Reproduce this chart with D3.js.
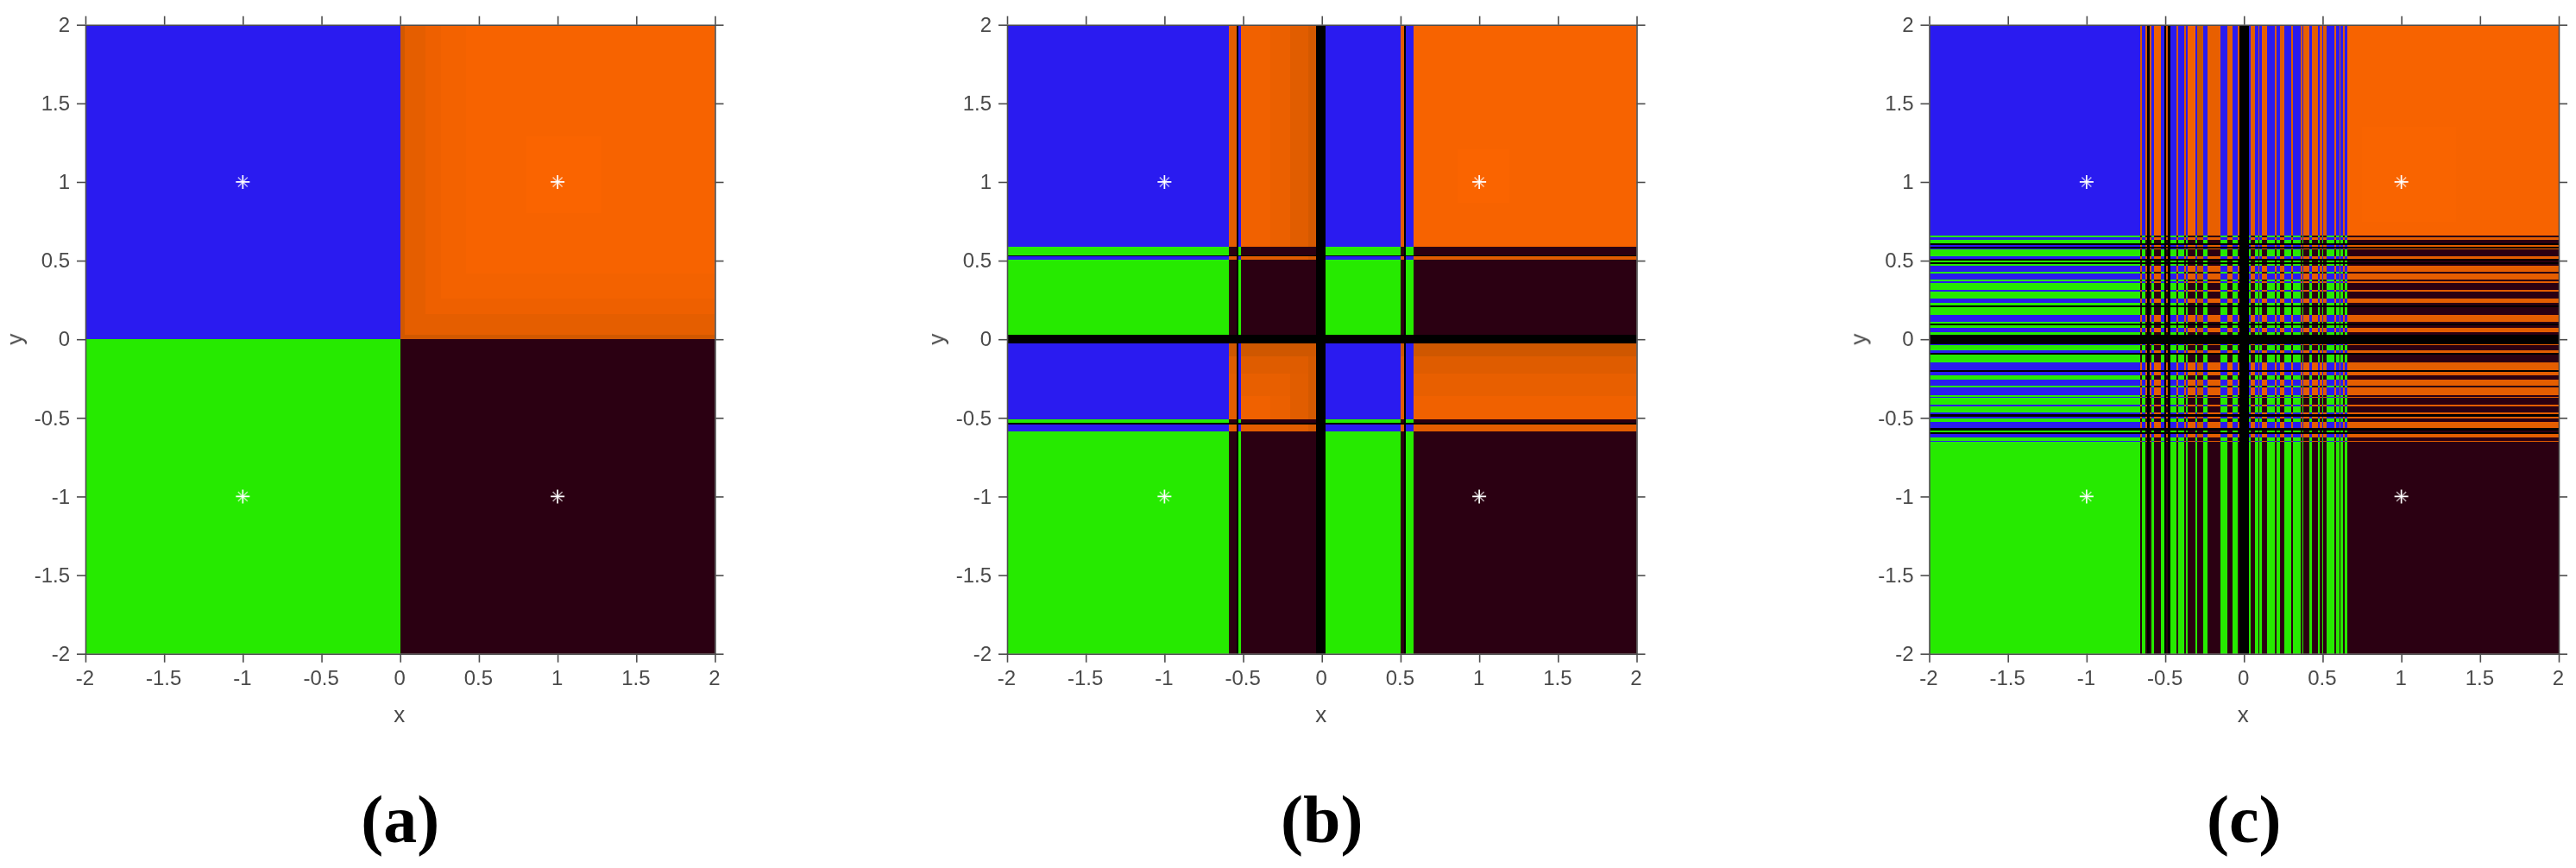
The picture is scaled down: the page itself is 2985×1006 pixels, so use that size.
<!DOCTYPE html>
<html><head><meta charset="utf-8">
<script src="https://cdnjs.cloudflare.com/ajax/libs/d3/7.8.5/d3.min.js"></script>
<style>html,body{margin:0;padding:0;background:#fff}svg{display:block}</style>
</head><body><svg id="c" width="2985" height="1006"></svg>
<script>
// ---------- data: tick values, sub-figure labels, equilibrium points ----------
const tickValues = [-2,-1.5,-1,-0.5,0,0.5,1,1.5,2];
const panelLabels = ["(a)","(b)","(c)"];
const equilibria = [[-1,1],[1,1],[-1,-1],[1,-1]];

// basin bands: edges and a kind for each interval. x: L/R/K(black), y: U/D/K
const xEdgesA = [-2,0,0.03,0.16,0.26,0.42,0.80,1.28,2];
const xKindsA = "LRRRRRRR";
const xShadeA = [1,0.45,0.72,0.84,0.90,0.96,1,0.96];
const yEdgesA = [2,1.29,0.80,0.42,0.26,0.16,0.03,0,-2];
const yKindsA = "UUUUUUUD";
const yShadeA = [0.96,1,0.96,0.90,0.84,0.72,0.45,1];

const xEdgesB = [-2,-0.592,-0.541,-0.53,-0.513,-0.327,-0.199,-0.089,-0.035,0.026,0.502,0.524,0.532,0.582,0.86,1.19,2];
const xKindsB = "LRKLRRRRKLRKLRRR";
const xShadeB = [1,0.7,1,1,0.88,0.80,0.66,0.49,1,1,0.7,1,1,0.96,1,0.96];
const yEdgesB = [2,1.21,0.87,0.589,0.534,0.53,0.508,0.03,-0.028,-0.107,-0.216,-0.36,-0.507,-0.529,-0.54,-0.587,-2];
const yKindsB = "UUUDKUDKUUUUDKUD";
const yShadeB = [0.96,1,0.96,1,1,0.66,1,1,0.42,0.63,0.76,0.86,1,1,0.7,1];

const xEdgesC = [-2,-0.660,-0.650,-0.629,-0.613,-0.600,-0.587,-0.574,-0.527,-0.508,-0.496,-0.482,-0.469,-0.428,-0.417,-0.377,-0.368,-0.359,-0.310,-0.299,-0.259,-0.229,-0.149,-0.108,-0.072,-0.039,-0.027,0.030,0.041,0.070,0.092,0.100,0.112,0.149,0.198,0.209,0.231,0.259,0.299,0.311,0.363,0.370,0.379,0.418,0.430,0.470,0.481,0.500,0.505,0.527,0.573,0.587,0.605,0.611,0.631,0.642,0.655,0.75,1.35,2];
const xKindsC = "LRLRKRLRLK"+"RKLRLRLRLR"+"LRLRLRKLRL"+"RLRLRLRLRL"+"RLRLRLRLRL"+"RLRLRLRRR";
const xShadeC = [1,0.55,1,0.55,1,0.55,1,0.85,1,1,0.55,1,1,0.55,1,0.55,1,0.88,1,0.3,1,0.75,1,0.7,1,0.55,1,1,0.68,1,0.55,1,0.74,1,0.55,1,0.68,1,0.6,1,0.5,1,0.75,1,0.7,1,0.6,1,0.58,1,0.66,1,0.55,1,0.55,1,0.96,0.98,0.96];
const yEdgesC = [2,1.35,0.75,0.659,0.649,0.631,0.609,0.598,0.587,0.576,0.569,0.529,0.510,0.503,0.492,0.481,0.470,0.430,0.419,0.379,0.368,0.357,0.313,0.302,0.260,0.229,0.215,0.204,0.152,0.109,0.098,0.090,0.072,0.043,0.028,-0.030,-0.038,-0.070,-0.085,-0.100,-0.147,-0.195,-0.206,-0.231,-0.259,-0.297,-0.308,-0.355,-0.366,-0.374,-0.414,-0.428,-0.465,-0.479,-0.491,-0.501,-0.527,-0.565,-0.578,-0.593,-0.604,-0.626,-0.644,-0.651,-2];
const yKindsC = "UUUDUDKUKU"+"DUKDKDUDUD"+"UDUDUDKDUD"+"KDUDKUDUKD"+"UKUDUDUDUD"+"UDUKUDUKDK"+"UDUD";
const yShadeTopC = [0.96,0.98,0.96];
const yShadeRow = 0.72;

const palette = {blue:"#2a1bf0", green:"#26ea00", dark:"#2b0012", black:"#000000", orangeLo:"#b04e00", orangeHi:"#fa6400"};

const panels = [
 {left:99,     xe:xEdgesA, xk:xKindsA, xs:xShadeA, ye:yEdgesA, yk:yKindsA, ys:yShadeA},
 {left:1167,   xe:xEdgesB, xk:xKindsB, xs:xShadeB, ye:yEdgesB, yk:yKindsB, ys:yShadeB},
 {left:2235.5, xe:xEdgesC, xk:xKindsC, xs:xShadeC, ye:yEdgesC, yk:yKindsC, ys:null}
];

const W = 729.5, topY = 28.7, H = 729;
const svg = d3.select("#c");
const defs = svg.append("defs");
const f = defs.append("filter").attr("id","soft").attr("x","-2%").attr("y","-2%").attr("width","104%").attr("height","104%")
  .attr("color-interpolation-filters","sRGB");
f.append("feGaussianBlur").attr("stdDeviation",0.75);
const ft = defs.append("filter").attr("id","softT").attr("filterUnits","userSpaceOnUse").attr("x",0).attr("y",0).attr("width",2985).attr("height",1006)
  .attr("color-interpolation-filters","sRGB");
ft.append("feGaussianBlur").attr("stdDeviation",0.45);

const orange = d3.interpolateRgb(palette.orangeLo, palette.orangeHi);
function bands(edges, kinds, shades, def){
  return d3.range(edges.length-1).map(i=>({a:edges[i], b:edges[i+1], k:kinds[i], s: shades?shades[i]:def(i)}));
}
function cellColor(xb,yb){
  if(xb.k==="K"||yb.k==="K") return palette.black;
  if(yb.k==="D") return xb.k==="L"?palette.green:palette.dark;
  if(xb.k==="L") return palette.blue;
  return orange(Math.min(xb.s,yb.s));
}

panels.forEach((p,pi)=>{
  const x = d3.scaleLinear().domain([-2,2]).range([p.left,p.left+W]);
  const y = d3.scaleLinear().domain([-2,2]).range([topY+H,topY]);
  const clipId = "clip"+pi;
  defs.append("clipPath").attr("id",clipId).append("rect")
    .attr("x",p.left).attr("y",topY).attr("width",W).attr("height",H);

  const xb = bands(p.xe,p.xk,p.xs);
  const yb = bands(p.ye,p.yk,p.ys,i=> i<3 ? yShadeTopC[i] : yShadeRow);
  const cells = d3.cross(xb,yb);

  const g = svg.append("g").attr("clip-path",`url(#${clipId})`).append("g").attr("filter","url(#soft)");
  g.selectAll("rect").data(cells).join("rect")
    .attr("x",d=>x(d[0].a)).attr("width",d=>x(d[0].b)-x(d[0].a))
    .attr("y",d=>y(d[1].a)).attr("height",d=>y(d[1].b)-y(d[1].a))
    .attr("fill",d=>cellColor(d[0],d[1]))
    .attr("shape-rendering","crispEdges");

  // equilibrium markers
  const m = svg.append("g").attr("filter","url(#softT)");
  const star = m.selectAll("g").data(equilibria).join("g")
    .attr("transform",d=>`translate(${x(d[0])},${y(d[1])})`);
  star.append("path").attr("d","M-8,0H8M0,-8V8").attr("stroke","#fff").attr("stroke-width",1.7).attr("fill","none");
  star.append("path").attr("d","M-5.5,-5.5L5.5,5.5M-5.5,5.5L5.5,-5.5").attr("stroke","#fff").attr("stroke-opacity",0.65).attr("stroke-width",1.6).attr("fill","none");

  // axes (box with outward ticks on all four sides)
  const axG = svg.append("g").attr("filter","url(#softT)");
  const fmt = d=>String(d);
  const style = s=>{ s.selectAll("path,line").attr("stroke","#4d4d4d").attr("stroke-width",1.6);
                     s.selectAll("text").attr("fill","#4a4a4a").style("font-family","'Liberation Sans',Arial,sans-serif").style("font-size","24px"); };
  axG.append("g").attr("transform",`translate(0,${topY+H})`)
     .call(d3.axisBottom(x).tickValues(tickValues).tickFormat(fmt).tickSize(10).tickSizeOuter(0).tickPadding(9)).call(style)
     .selectAll("text").attr("dx",-1);
  axG.append("g").attr("transform",`translate(0,${topY})`)
     .call(d3.axisTop(x).tickValues(tickValues).tickFormat("").tickSize(10).tickSizeOuter(0)).call(style);
  axG.append("g").attr("transform",`translate(${p.left},0)`)
     .call(d3.axisLeft(y).tickValues(tickValues).tickFormat(fmt).tickSize(10).tickSizeOuter(0).tickPadding(8)).call(style);
  axG.append("g").attr("transform",`translate(${p.left+W},0)`)
     .call(d3.axisRight(y).tickValues(tickValues).tickFormat("").tickSize(10).tickSizeOuter(0)).call(style);

  axG.append("text").attr("x",x(0)-1).attr("y",837).attr("text-anchor","middle")
     .attr("fill","#4a4a4a").style("font-family","'Liberation Sans',Arial,sans-serif").style("font-size","26px").text("x");
  axG.append("text").attr("transform",`translate(${p.left-73},${y(0)}) rotate(-90)`).attr("text-anchor","middle")
     .attr("fill","#4a4a4a").style("font-family","'Liberation Sans',Arial,sans-serif").style("font-size","26px").text("y");

  svg.append("text").attr("x",x(0)).attr("y",976).attr("text-anchor","middle")
     .attr("fill","#000").style("font-family","'Liberation Serif',serif").style("font-weight","bold").style("font-size","78px")
     .text(panelLabels[pi]);
});
</script></body></html>
